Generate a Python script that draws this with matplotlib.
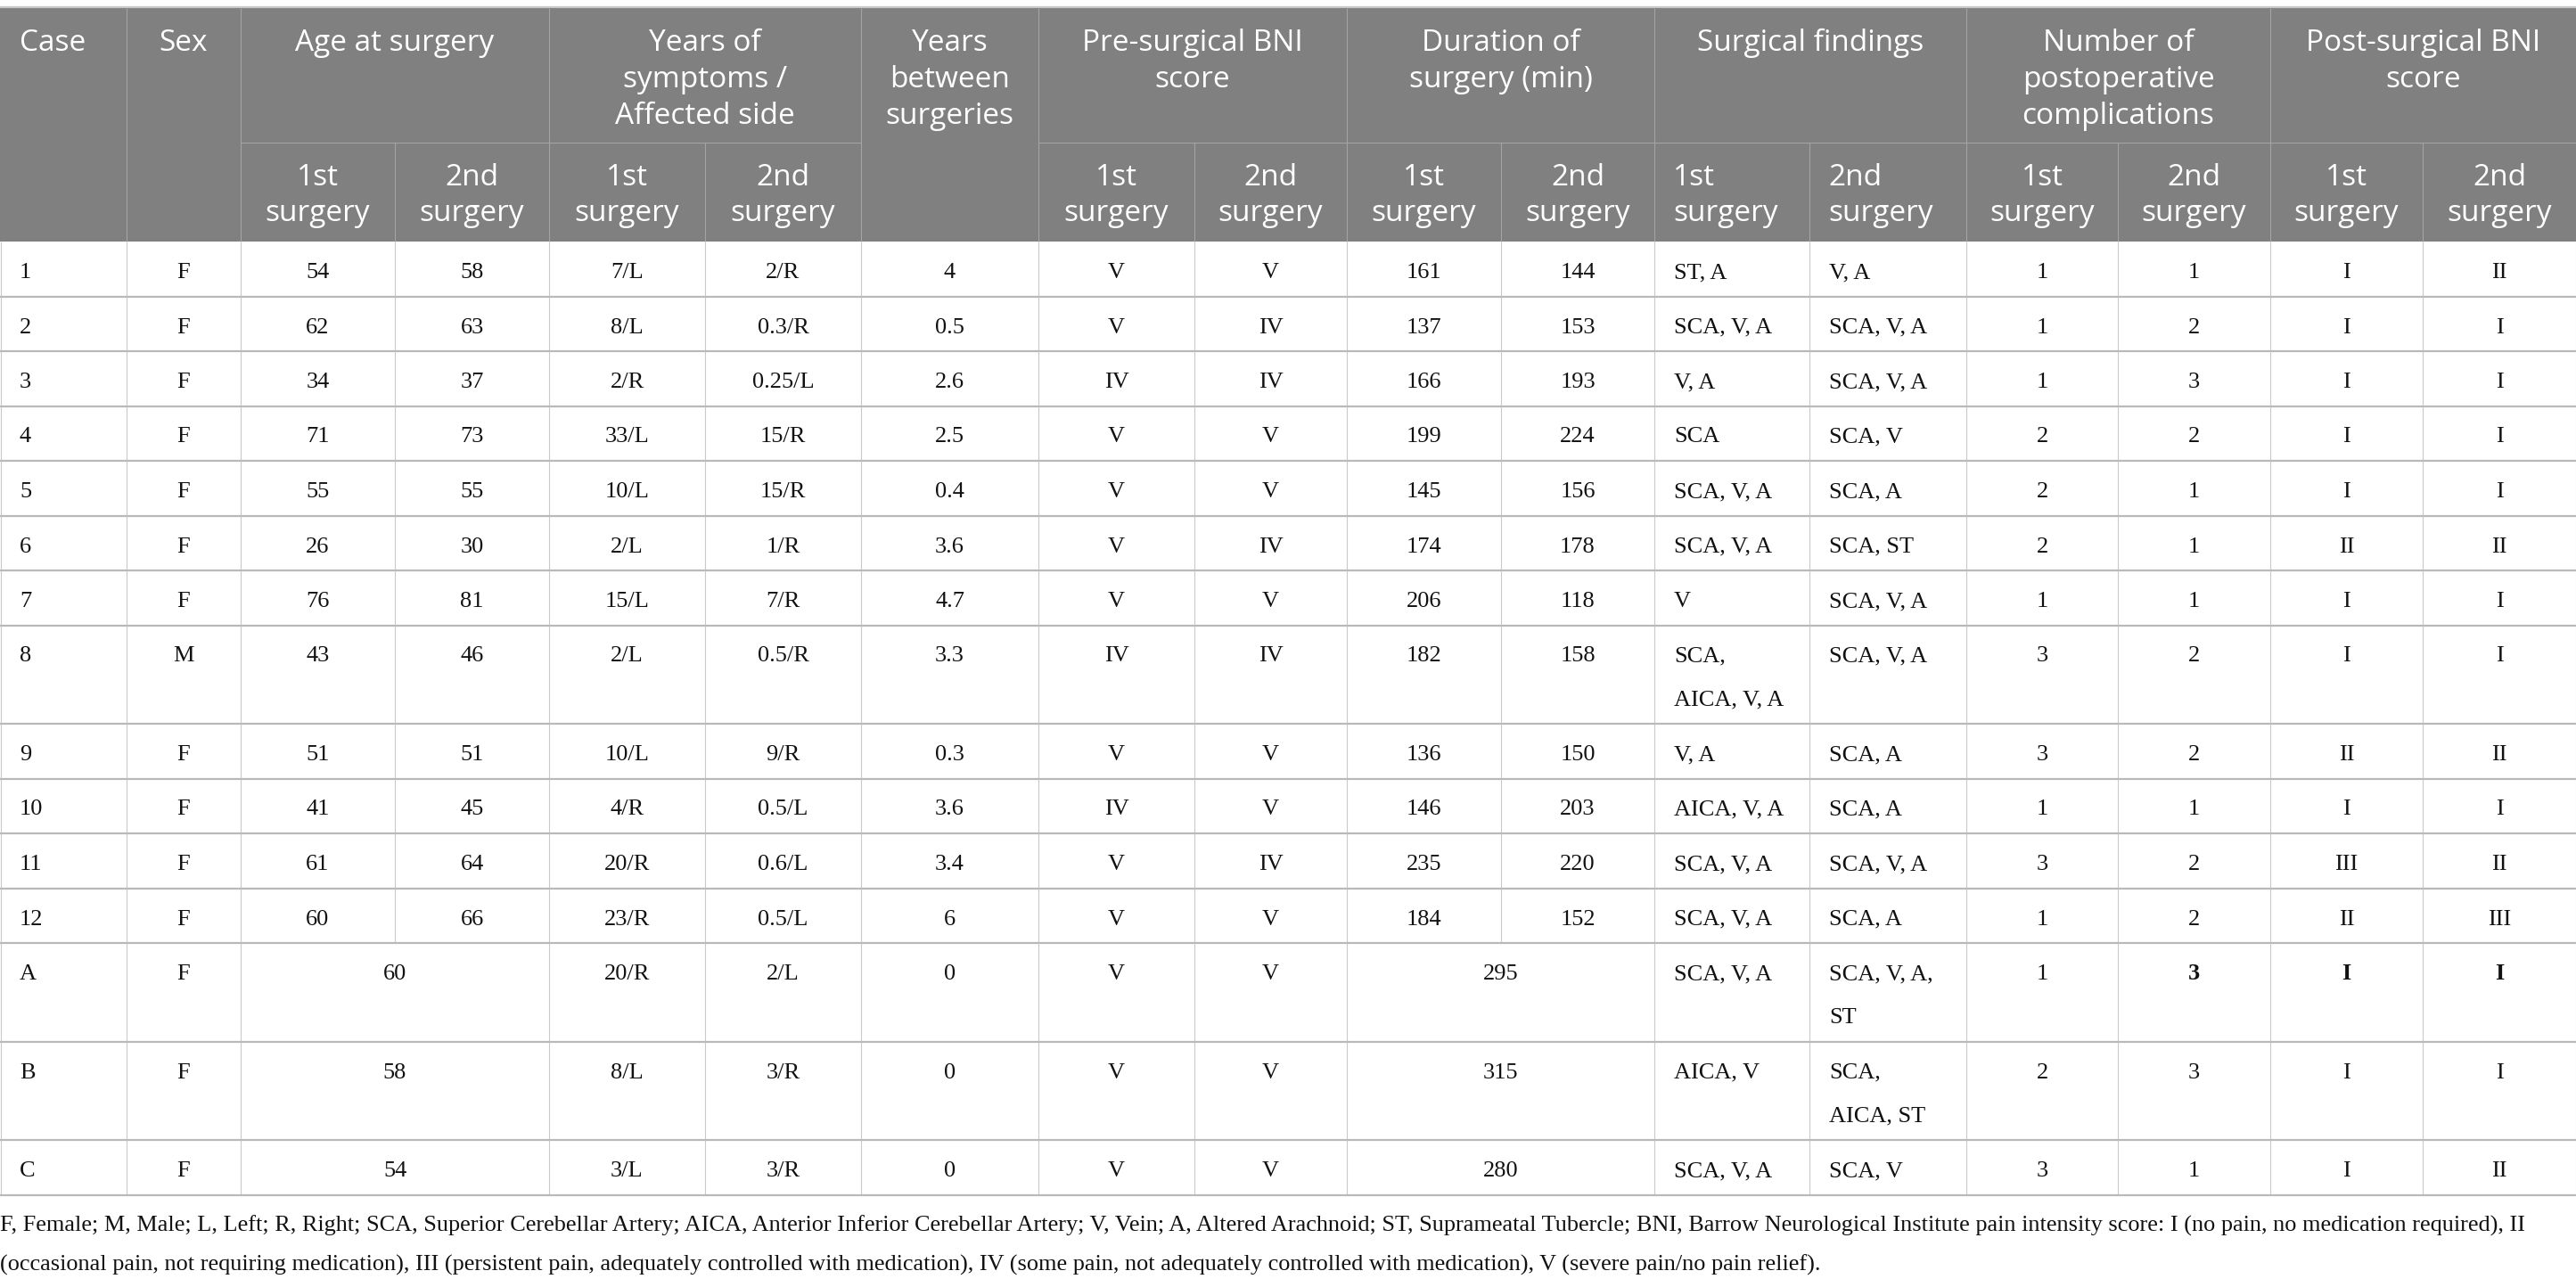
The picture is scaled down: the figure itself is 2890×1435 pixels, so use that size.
import matplotlib
matplotlib.use("Agg")
import matplotlib.pyplot as plt
from matplotlib.patches import Rectangle

# ---- data ----
cases = ["1", "2", "3", "4", "5", "6", "7", "8", "9", "10", "11", "12", "A", "B", "C"]
sex = ["F", "F", "F", "F", "F", "F", "F", "M", "F", "F", "F", "F", "F", "F", "F"]
age_1st = ["54", "62", "34", "71", "55", "26", "76", "43", "51", "41", "61", "60", "60", "58", "54"]
age_2nd = ["58", "63", "37", "73", "55", "30", "81", "46", "51", "45", "64", "66", None, None, None]
years_1st = ["7/L", "8/L", "2/R", "33/L", "10/L", "2/L", "15/L", "2/L", "10/L", "4/R", "20/R", "23/R",
             "20/R", "8/L", "3/L"]
years_2nd = ["2/R", "0.3/R", "0.25/L", "15/R", "15/R", "1/R", "7/R", "0.5/R", "9/R", "0.5/L", "0.6/L",
             "0.5/L", "2/L", "3/R", "3/R"]
years_between = ["4", "0.5", "2.6", "2.5", "0.4", "3.6", "4.7", "3.3", "0.3", "3.6", "3.4", "6", "0", "0", "0"]
bni_pre_1st = ["V", "V", "IV", "V", "V", "V", "V", "IV", "V", "IV", "V", "V", "V", "V", "V"]
bni_pre_2nd = ["V", "IV", "IV", "V", "V", "IV", "V", "IV", "V", "V", "IV", "V", "V", "V", "V"]
dur_1st = ["161", "137", "166", "199", "145", "174", "206", "182", "136", "146", "235", "184", "295", "315", "280"]
dur_2nd = ["144", "153", "193", "224", "156", "178", "118", "158", "150", "203", "220", "152", None, None, None]
findings_1st = ["ST, A", "SCA, V, A", "V, A", "SCA", "SCA, V, A", "SCA, V, A", "V", "SCA,\nAICA, V, A",
                "V, A", "AICA, V, A", "SCA, V, A", "SCA, V, A", "SCA, V, A", "AICA, V", "SCA, V, A"]
findings_2nd = ["V, A", "SCA, V, A", "SCA, V, A", "SCA, V", "SCA, A", "SCA, ST", "SCA, V, A", "SCA, V, A",
                "SCA, A", "SCA, A", "SCA, V, A", "SCA, A", "SCA, V, A,\nST", "SCA,\nAICA, ST", "SCA, V"]
compl_1st = ["1", "1", "1", "2", "2", "2", "1", "3", "3", "1", "3", "1", "1", "2", "3"]
compl_2nd = ["1", "2", "3", "2", "1", "1", "1", "2", "2", "1", "2", "2", "3", "3", "1"]
bni_post_1st = ["I", "I", "I", "I", "I", "II", "I", "I", "II", "I", "III", "II", "I", "I", "I"]
bni_post_2nd = ["II", "I", "I", "I", "I", "II", "I", "I", "II", "I", "II", "III", "I", "I", "II"]

group_labels = ["Case", "Sex", "Age at surgery", "Years of\nsymptoms /\nAffected side", "Years\nbetween\nsurgeries",
                "Pre-surgical BNI\nscore", "Duration of\nsurgery (min)", "Surgical findings",
                "Number of\npostoperative\ncomplications", "Post-surgical BNI\nscore"]
group_span = [1, 1, 2, 2, 1, 2, 2, 2, 2, 2]
sub_labels = ["1st\nsurgery", "2nd\nsurgery"]

# cells shown in bold: (row index, column index)
bold_cells = [(12, 14), (12, 15), (12, 16)]

footnote = ["F, Female; M, Male; L, Left; R, Right; SCA, Superior Cerebellar Artery; AICA, Anterior Inferior "
            "Cerebellar Artery; V, Vein; A, Altered Arachnoid; ST, Suprameatal Tubercle; BNI, Barrow Neurological "
            "Institute pain intensity score: I (no pain, no medication required), II",
            "(occasional pain, not requiring medication), III (persistent pain, adequately controlled with "
            "medication), IV (some pain, not adequately controlled with medication), V (severe pain/no pain relief)."]

columns = [cases, sex, age_1st, age_2nd, years_1st, years_2nd, years_between, bni_pre_1st, bni_pre_2nd,
           dur_1st, dur_2nd, findings_1st, findings_2nd, compl_1st, compl_2nd, bni_post_1st, bni_post_2nd]

# ---- layout ----
W, H = 2890, 1435
col_w = [142, 128, 173, 173, 175, 175, 199, 175, 171, 173, 172, 174, 176, 170, 171, 171, 172]
left_cols = {0, 11, 12}
col_x = [0]
for w in col_w:
    col_x.append(col_x[-1] + w)

head_top, head_mid, head_bot = 9, 160, 271
row_h1, line_step = 61.5, 49

HEAD_BG = "#7f807f"
HEAD_LINE = "#a3a4a3"
GRID = "#c9c9c9"
ROW_LINE = "#b9b9b9"

head_font = dict(family="Open Sans", size=24, color="white")
body_font = dict(family="Liberation Serif", size=19, color="#111111")

fig = plt.figure(figsize=(W / 100, H / 100), dpi=100)
ax = fig.add_axes([0, 0, 1, 1])
ax.set_xlim(0, W)
ax.set_ylim(H, 0)
ax.axis("off")

# header background
ax.add_patch(Rectangle((0, head_top), W, head_bot - head_top, color=HEAD_BG, lw=0))
ax.hlines(head_top - 1, 0, W, color=GRID, lw=1.6)


def put_lines(text, x, base_y, step, ha, **font):
    for k, line in enumerate(text.split("\n")):
        ax.text(x, base_y + k * step, line, ha=ha, va="baseline", **font)


# header cells
c = 0
for label, span in zip(group_labels, group_span):
    x0, x1 = col_x[c], col_x[c + span]
    if c in left_cols and span == 1:
        put_lines(label, x0 + 22, head_top + 48, 41, "left", **head_font)
    else:
        put_lines(label, (x0 + x1) / 2, head_top + 48, 41, "center", **head_font)
    if span == 2:
        ax.hlines(head_mid, x0, x1, color=HEAD_LINE, lw=0.8)
        for j in range(2):
            cx0, cx1 = col_x[c + j], col_x[c + j + 1]
            if c + j in left_cols:
                put_lines(sub_labels[j], cx0 + 21, head_mid + 48, 40, "left", **head_font)
            else:
                put_lines(sub_labels[j], (cx0 + cx1) / 2, head_mid + 48, 40, "center", **head_font)
        ax.vlines(col_x[c + 1], head_mid, head_bot, color=HEAD_LINE, lw=0.8)
    if c > 0:
        ax.vlines(x0, head_top, head_bot, color=HEAD_LINE, lw=0.8)
    c += span

# body rows
y = head_bot
for i in range(len(cases)):
    n_lines = max(str(col[i]).count("\n") + 1 for col in columns if col[i] is not None)
    h = row_h1 + line_step * (n_lines - 1)
    j = 0
    while j < len(columns):
        val = columns[j][i]
        span = 1
        if j + 1 < len(columns) and columns[j + 1][i] is None:
            span = 2
        x0, x1 = col_x[j], col_x[j + span]
        font = dict(body_font)
        if (i, j) in bold_cells:
            font["weight"] = "bold"
        if j in left_cols:
            put_lines(val, x0 + 22, y + 41, line_step, "left", **font)
        else:
            put_lines(val, (x0 + x1) / 2, y + 41, line_step, "center", **font)
        if j > 0:
            ax.vlines(x0, y, y + h, color=GRID, lw=0.8)
        j += span
    ax.vlines(0.5, y, y + h, color=GRID, lw=0.8)
    ax.vlines(W - 0.5, y, y + h, color=GRID, lw=0.8)
    y += h
    ax.hlines(y, 0, W, color=ROW_LINE, lw=1.6)

# footnote
foot_font = dict(family="Liberation Serif", size=18.9, color="#111111")
for k, line in enumerate(footnote):
    ax.text(0, y + 41 + k * 44, line, ha="left", va="baseline", **foot_font)

fig.savefig("out.png", dpi=100, facecolor="white")
